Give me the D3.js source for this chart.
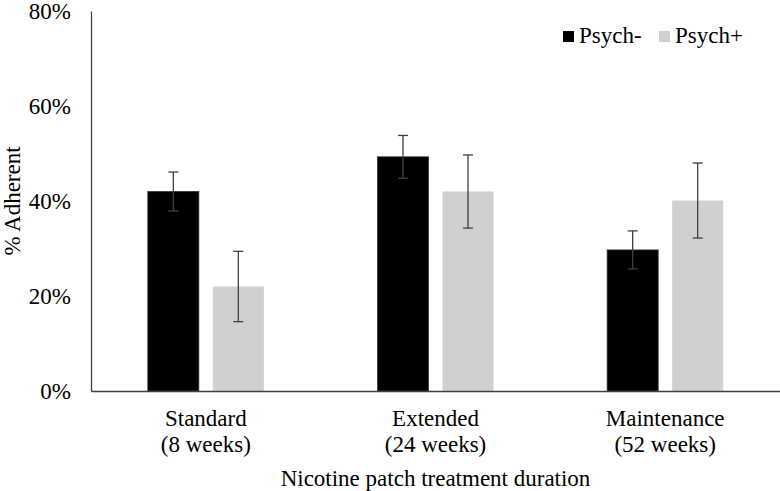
<!DOCTYPE html>
<html>
<head>
<meta charset="utf-8">
<script src="https://cdn.jsdelivr.net/npm/d3@7"></script>
<style>
  body { margin: 0; background: #fff; }
</style>
</head>
<body>
<svg id="chart" width="780" height="491"></svg>
<script>
const categories = ['Standard|(8 weeks)', 'Extended|(24 weeks)', 'Maintenance|(52 weeks)'];
const series = ['Psych-', 'Psych+'];
const psychMinus = [42.0, 49.3, 29.7];
const psychPlus = [22.0, 42.0, 40.1];
const errMinus = [4.1, 4.5, 4.0];
const errPlus = [7.4, 7.7, 7.9];
const yTicks = [0, 20, 40, 60, 80];

const colors = { 'Psych-': '#000000', 'Psych+': '#d0d0d0' };
const serif = "'Liberation Serif', 'Times New Roman', Times, serif";
const fs = 23;

const svg = d3.select('#chart');
const plotLeft = 91, plotRight = 780, plotTop = 11, plotBottom = 391;

const x0 = d3.scaleBand()
  .domain(categories)
  .range([plotLeft, plotRight])
  .padding(0);

const x1 = d3.scaleBand()
  .domain(series)
  .range([0, x0.bandwidth()])
  .paddingInner(0.215)
  .paddingOuter(0.874);

const y = d3.scaleLinear()
  .domain([0, 80])
  .range([plotBottom, plotTop]);

const rows = categories.map((c, i) => ({
  cat: c,
  vals: [
    { s: 'Psych-', v: psychMinus[i], e: errMinus[i] },
    { s: 'Psych+', v: psychPlus[i], e: errPlus[i] }
  ]
}));

// y axis
const yAxis = svg.append('g')
  .attr('transform', `translate(${plotLeft},0)`)
  .call(d3.axisLeft(y).tickValues(yTicks).tickSize(0).tickPadding(20).tickFormat(d => d + '%'));
yAxis.attr('font-family', serif);
yAxis.select('.domain').attr('stroke', '#404040').attr('stroke-width', 1.3);
yAxis.selectAll('text')
  .attr('font-family', serif)
  .attr('font-size', fs)
  .attr('fill', '#000');

// bars
const groups = svg.selectAll('.cat')
  .data(rows)
  .enter()
  .append('g')
  .attr('transform', d => `translate(${x0(d.cat)},0)`);

groups.selectAll('rect')
  .data(d => d.vals)
  .enter()
  .append('rect')
  .attr('x', d => x1(d.s))
  .attr('y', d => y(d.v))
  .attr('width', x1.bandwidth())
  .attr('height', d => y(0) - y(d.v))
  .attr('fill', d => colors[d.s])
  .attr('stroke', d => d.s === 'Psych-' ? '#333' : 'none')
  .attr('stroke-width', 0.8);

// error bars
const eb = groups.selectAll('.err')
  .data(d => d.vals)
  .enter()
  .append('g')
  .attr('stroke', '#404040')
  .attr('stroke-width', 1.3);

eb.append('line')
  .attr('x1', d => x1(d.s) + x1.bandwidth() / 2)
  .attr('x2', d => x1(d.s) + x1.bandwidth() / 2)
  .attr('y1', d => y(d.v + d.e))
  .attr('y2', d => y(d.v - d.e));
eb.append('line')
  .attr('x1', d => x1(d.s) + x1.bandwidth() / 2 - 5)
  .attr('x2', d => x1(d.s) + x1.bandwidth() / 2 + 5)
  .attr('y1', d => y(d.v + d.e))
  .attr('y2', d => y(d.v + d.e));
eb.append('line')
  .attr('x1', d => x1(d.s) + x1.bandwidth() / 2 - 5)
  .attr('x2', d => x1(d.s) + x1.bandwidth() / 2 + 5)
  .attr('y1', d => y(d.v - d.e))
  .attr('y2', d => y(d.v - d.e));

// x axis
const xAxis = svg.append('g')
  .attr('transform', `translate(0,${plotBottom})`)
  .call(d3.axisBottom(x0).tickSize(0).tickFormat(''));
xAxis.select('.domain').attr('stroke', '#404040').attr('stroke-width', 1.3);

xAxis.selectAll('.tick').each(function(d) {
  const parts = d.split('|');
  const t = d3.select(this).append('text')
    .attr('text-anchor', 'middle')
    .attr('font-family', serif)
    .attr('font-size', fs)
    .attr('fill', '#000');
  parts.forEach((p, i) => {
    t.append('tspan').attr('x', 0).attr('y', 35 + i * 26).text(p);
  });
});

// axis titles
svg.append('text')
  .attr('x', (plotLeft + plotRight) / 2)
  .attr('y', 486)
  .attr('text-anchor', 'middle')
  .attr('font-family', serif)
  .attr('font-size', fs)
  .text('Nicotine patch treatment duration');

svg.append('text')
  .attr('transform', `translate(20,${(plotTop + plotBottom) / 2}) rotate(-90)`)
  .attr('text-anchor', 'middle')
  .attr('font-family', serif)
  .attr('font-size', fs)
  .text('% Adherent');

// legend
const legend = svg.append('g');
const legendX = [563, 659];
series.forEach((s, i) => {
  legend.append('rect')
    .attr('x', legendX[i]).attr('y', 31)
    .attr('width', 11).attr('height', 11)
    .attr('fill', colors[s]);
  legend.append('text')
    .attr('x', legendX[i] + 16).attr('y', 43)
    .attr('font-family', serif)
    .attr('font-size', fs)
    .text(s);
});
</script>
</body>
</html>
